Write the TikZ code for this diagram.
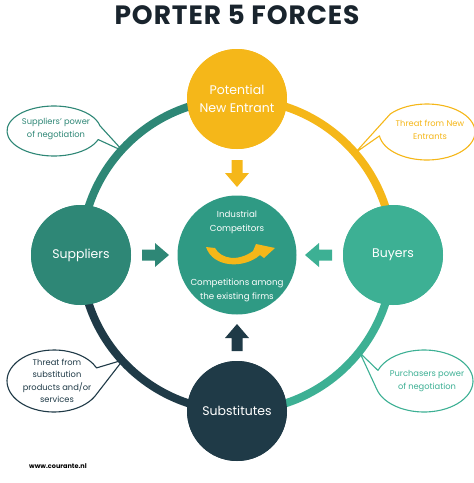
\documentclass[tikz,border=0pt]{standalone}
\usepackage{fontspec}
\setmainfont{Poppins}
\newfontfamily\titlefont[LetterSpace=3.5]{Poppins}
\usetikzlibrary{calc}
\definecolor{cyel}{HTML}{F5B719}
\definecolor{csup}{HTML}{2E8776}
\definecolor{cbuy}{HTML}{3DB094}
\definecolor{cnav}{HTML}{1F3A47}
\definecolor{ccen}{HTML}{2F9A84}
\definecolor{ctit}{HTML}{19242D}
\tikzset{
  bubble/.style={circle, inner sep=0pt, minimum size=100pt, text=white, align=center,
    font=\fontsize{12.5}{18}\selectfont},
  ring/.style={line width=8pt},
  callout/.style={fill=white, line width=1.1pt, line join=round},
  ctext/.style={align=center, font=\fontsize{8.3}{12.5}\selectfont, inner sep=0pt},
  ctrtext/.style={align=center, text=white, font=\fontsize{8.7}{14}\selectfont, inner sep=0pt},
  blockarr/.pic={\fill (-13,-5.5) -- (0,-5.5) -- (0,-12) -- (14,0) -- (0,12) -- (0,5.5) -- (-13,5.5) -- cycle;}
}
\begin{document}
\begin{tikzpicture}[x=1pt,y=-1pt]
\useasboundingbox (0,0) rectangle (474,483);
% title
\node[font=\titlefont\fontsize{26.5}{30}\selectfont\bfseries, text=ctit, inner sep=0pt] (title) at (237,15) {PORTER 5 FORCES};
% nodes
\coordinate (c) at (237,255);
\node[bubble, fill=cyel] (pne) at (237,99) {Potential\\New Entrant};
\node[bubble, fill=csup] (sup) at (81,255) {Suppliers};
\node[bubble, fill=cbuy] (buy) at (393,255) {Buyers};
\node[bubble, fill=cnav] (sub) at (237,411) {Substitutes};
% callouts
\draw[callout, draw=csup] (54,131) ++(20:47 and 25) arc[start angle=20, end angle=348, x radius=47, y radius=25] -- (123,151) -- cycle;
\draw[callout, draw=cyel] (427,132) ++(172:48 and 28) arc[start angle=172, end angle=-140, x radius=48, y radius=28] -- (355,153) -- cycle;
\draw[callout, draw=cnav] (54,381) ++(30:47 and 31) arc[start angle=30, end angle=335, x radius=47, y radius=31] -- (123,360) -- cycle;
\draw[callout, draw=cbuy] (424,381) ++(165:49 and 31) arc[start angle=165, end angle=-160, x radius=49, y radius=31] -- (360,353) -- cycle;
\node[ctext, text=csup] (t1) at (56,129) {Suppliers' power\\of negotiation};
\node[ctext, text=cyel] (t2) at (430,130) {Threat from New\\Entrants};
\node[ctext, text=cnav] (t3) at (57,381) {Threat from\\substitution\\products and/or\\services};
\node[ctext, text=cbuy] (t4) at (427,381) {Purchasers power\\of negotiation};
% ring
\draw[ring, csup] (sup.center) arc[start angle=180, end angle=270, radius=156];
\draw[ring, cyel] (pne.center) arc[start angle=270, end angle=360, radius=156];
\draw[ring, cbuy] (buy.center) arc[start angle=0, end angle=90, radius=156];
\draw[ring, cnav] (sub.center) arc[start angle=90, end angle=180, radius=156];
% redraw nodes on top
\node[bubble, fill=cyel] at (pne) {Potential\\New Entrant};
\node[bubble, fill=csup] at (sup) {Suppliers};
\node[bubble, fill=cbuy] at (buy) {Buyers};
\node[bubble, fill=cnav] at (sub) {Substitutes};
% center
\node[circle, fill=ccen, minimum size=119pt, inner sep=0pt] (comp) at (c) {};
\node[ctrtext] (c1) at (237,222) {Industrial\\Competitors};
\node[ctrtext] (c2) at (237,290) {Competitions among\\the existing firms};
\fill[cyel] (206,247) -- (215,248) .. controls (221,259) and (238,262) .. (253,251) -- (256,244) -- (275,248) -- (264,258) -- (260,255) .. controls (244,269) and (213,268) .. (206,247) -- cycle;
% block arrows
\pic[color=csup] at (155,255) {blockarr};
\pic[color=cbuy, rotate=180] at (319,255) {blockarr};
\pic[color=cyel, rotate=-90] at (237,173) {blockarr};
\pic[color=cnav, rotate=90] at (237,338) {blockarr};
% footer
\node[font=\fontsize{6.5}{8}\selectfont\bfseries, inner sep=0pt] (web) at (58,466) {www.courante.nl};
\end{tikzpicture}
\end{document}
